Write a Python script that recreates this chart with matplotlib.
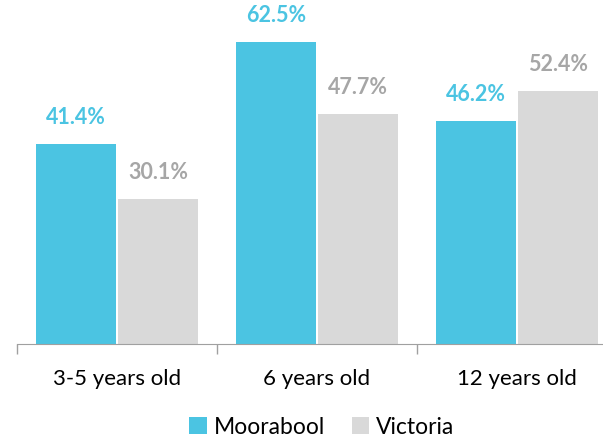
import numpy as np
import matplotlib.pyplot as plt

plt.rcParams['font.family'] = ['Lato', 'DejaVu Sans']

categories = ['3-5 years old', '6 years old', '12 years old']
moorabool = [41.4, 62.5, 46.2]
victoria = [30.1, 47.7, 52.4]

cyan = '#4BC4E2'
grey = '#D9D9D9'
grey_txt = '#A6A6A6'

fig = plt.figure(figsize=(6.03, 4.39), dpi=100)
# axis runs past the right edge, like the cropped original
ax = fig.add_axes([17 / 603, (439 - 345) / 439, 600 / 603, 345 / 439])

x = np.arange(len(categories))
w = 0.4
b1 = ax.bar(x - w / 2 - 0.005, moorabool, w, color=cyan, label='Moorabool')
b2 = ax.bar(x + w / 2 + 0.005, victoria, w, color=grey, label='Victoria')

for bars, vals, col in [(b1, moorabool, cyan), (b2, victoria, grey_txt)]:
    for r, v in zip(bars, vals):
        ax.annotate(f'{v:.1f}%', (r.get_x() + r.get_width() / 2, v),
                    xytext=(0, 12), textcoords='offset points', ha='center',
                    va='bottom', fontsize=15.5, fontweight='bold', color=col)

ax.set_xlim(-0.5, 2.5)
ax.set_ylim(0, 71.4)
ax.set_yticks([])
ax.set_xticks(x)
ax.set_xticklabels(categories, fontsize=16)
ax.set_xticks(np.arange(-0.5, 3, 1), minor=True)
ax.tick_params(axis='x', which='major', length=0, pad=17)
ax.tick_params(axis='x', which='minor', length=7, color='#A0A0A0', width=1)
for s in ['top', 'right', 'left']:
    ax.spines[s].set_visible(False)
ax.spines['bottom'].set_color('#A0A0A0')

fig.legend(loc='center', bbox_to_anchor=(322 / 603, 11 / 439), ncol=2,
           frameon=False, fontsize=16.5, handlelength=0.75, handleheight=0.75,
           columnspacing=1.2, handletextpad=0.3, borderpad=0)

fig.savefig('out.png', dpi=100)
